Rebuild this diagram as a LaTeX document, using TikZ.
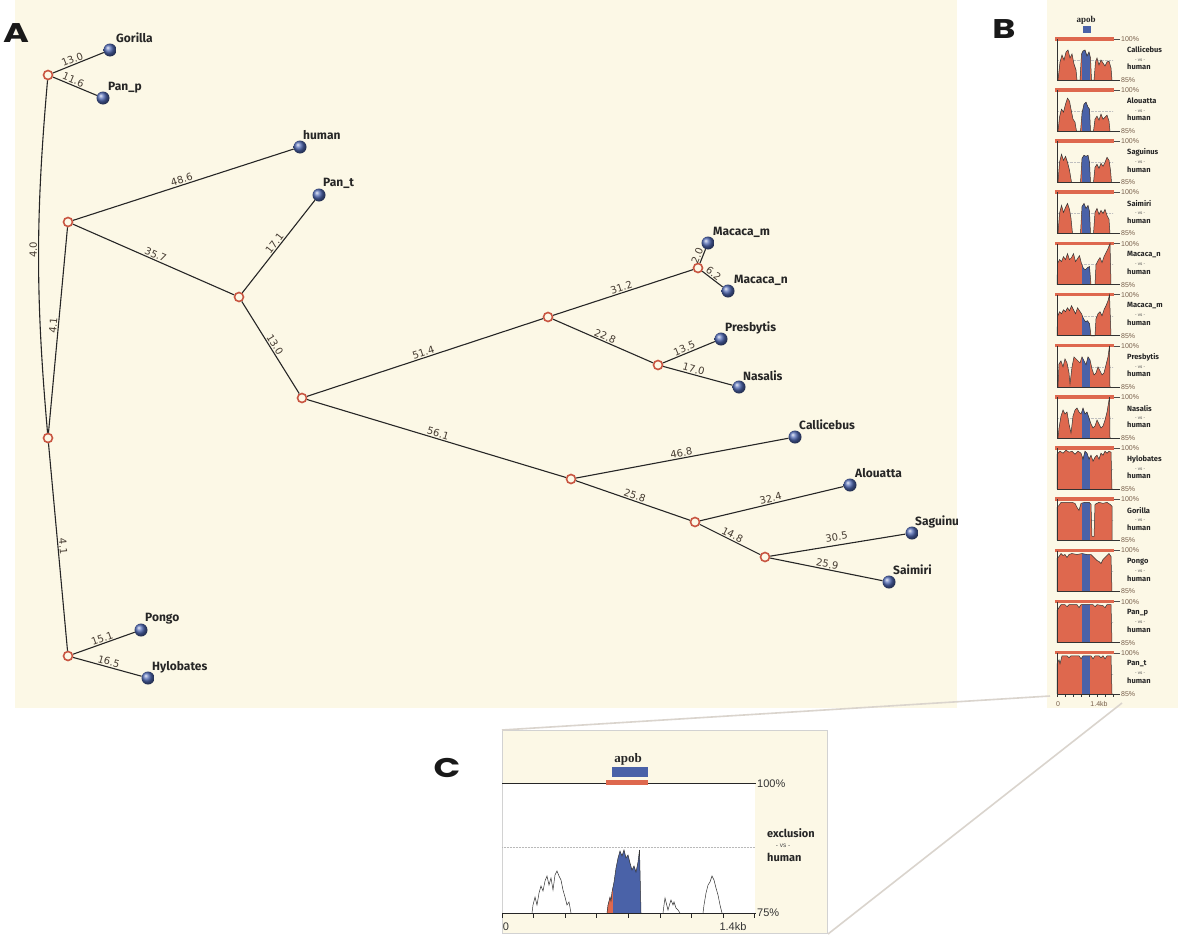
\documentclass[tikz,border=0pt]{standalone}
\usepackage{fontspec}
\setmainfont{Liberation Sans}
\newfontfamily\leaffont{Fira Sans}
\newfontfamily\numfont{DejaVu Sans}
\newfontfamily\panelfont{Poppins}
\newfontfamily\serifb{Liberation Serif}
\definecolor{cream}{RGB}{252,248,230}
\definecolor{ringred}{RGB}{200,85,65}
\definecolor{leafblue}{RGB}{80,105,180}
\definecolor{plotred}{RGB}{222,104,78}
\definecolor{plotblue}{RGB}{74,98,168}
\definecolor{labgray}{RGB}{70,60,50}
\definecolor{pctcol}{RGB}{120,95,75}
\definecolor{connect}{RGB}{218,212,205}
\tikzset{
  inner/.style={circle, draw=ringred, line width=1.6pt, fill=cream, minimum size=9pt, inner sep=0pt},
  leaf/.style={circle, shading=ball, ball color=leafblue, minimum size=13pt, inner sep=0pt},
  leaflab/.style={anchor=west, font=\leaffont\bfseries\fontsize{12}{12}\selectfont, text=black!85, inner sep=0pt},
  edge/.style={line width=1.1pt, black!85},
  elab/.style={sloped, above, font=\numfont\fontsize{10}{10}\selectfont, text=labgray, inner sep=1pt},
  panellab/.style={font=\panelfont\bfseries\fontsize{27}{27}\selectfont, text=black!90, inner sep=0pt},
  pct/.style={anchor=west, font=\fontsize{7}{7}\selectfont, text=pctcol, inner sep=0pt},
  bname/.style={anchor=west, font=\leaffont\bfseries\fontsize{7.5}{7.5}\selectfont, text=black!85, inner sep=0pt},
  bvs/.style={font=\fontsize{4.5}{4.5}\selectfont, text=black!70, inner sep=0pt},
  outl/.style={line width=0.5pt, black!80},
  cpct/.style={anchor=west, font=\fontsize{11}{11}\selectfont, text=black!80, inner sep=0pt},
  cname/.style={anchor=west, font=\leaffont\bfseries\fontsize{11}{11}\selectfont, text=black!85, inner sep=0pt},
}
\newcommand\bptrack[3]{%
\begin{scope}[shift={(1057,{80+51.15*#1})},yscale=-1]
  \fill[plotred] (-2,39.5) rectangle (57,43);
  \draw[line width=0.6pt, black!70] (57,41) -- (63,41);
  \node[pct] at (64,41) {100\%};
  \draw[gray!50, densely dotted, line width=0.4pt] (0,20) -- (56,20);
  \fill[plotred] plot coordinates {#3} -- cycle;
  \begin{scope}
    \clip plot coordinates {#3} -- cycle;
    \fill[plotblue] (25,-1) rectangle (33,45);
  \end{scope}
  \draw[outl] plot coordinates {#3};
  \draw[line width=0.6pt, black!80] (0,0) -- (0,41);
  \draw[line width=0.6pt, black!80] (0,0) -- (63,0);
  \node[pct] at (64,0) {85\%};
  \node[bname] at (70,30) {#2};
  \node[bvs] at (83,20) {- vs -};
  \node[bname] at (70,13) {human};
\end{scope}}
\begin{document}
\begin{tikzpicture}[x=1pt,y=-1pt]
\useasboundingbox (0,0) rectangle (1178,937);
\fill[white] (0,0) rectangle (1178,937);
% panel backgrounds
\fill[cream] (15,0) rectangle (957,708);
\fill[cream] (1047,0) rectangle (1178,708);

% ---------- Panel A: tree ----------
\node[panellab] (labA) at (16,33) {\scalebox{1.3}[1]{A}};
\node[inner] (n1) at (48,75) {};
\node[inner] (n2) at (68,222) {};
\node[inner] (n3) at (239,297) {};
\node[inner] (n4) at (302,398) {};
\node[inner] (n5) at (698,268) {};
\node[inner] (n6) at (548,317) {};
\node[inner] (n7) at (658,365) {};
\node[inner] (n8) at (571,479) {};
\node[inner] (n9) at (695,522) {};
\node[inner] (n10) at (765,557) {};
\node[inner] (root) at (48,438) {};
\node[inner] (n11) at (68,656) {};

\node[leaf] (gor) at (110,50) {};
\node[leaf] (panp) at (103,98) {};
\node[leaf] (hum) at (300,147) {};
\node[leaf] (pant) at (319,195) {};
\node[leaf] (macm) at (708,243) {};
\node[leaf] (macn) at (728,291) {};
\node[leaf] (pres) at (721,339) {};
\node[leaf] (nas) at (739,387) {};
\node[leaf] (call) at (795,437) {};
\node[leaf] (alou) at (850,485) {};
\node[leaf] (sagu) at (912,533) {};
\node[leaf] (saim) at (889,582) {};
\node[leaf] (pong) at (141,630) {};
\node[leaf] (hylo) at (148,678) {};

\node[leaflab] (lgor) at (116,38) {Gorilla};
\node[leaflab] (lpanp) at (108,88) {Pan\_p};
\node[leaflab] (lhum) at (303,135) {human};
\node[leaflab] (lpant) at (323,183) {Pan\_t};
\node[leaflab] (lmacm) at (713,232) {Macaca\_m};
\node[leaflab] (lmacn) at (734,280) {Macaca\_n};
\node[leaflab] (lpres) at (725,328) {Presbytis};
\node[leaflab] (lnas) at (743,376) {Nasalis};
\node[leaflab] (lcall) at (799,425) {Callicebus};
\node[leaflab] (lalou) at (855,473) {Alouatta};
\begin{scope}
  \clip (15,0) rectangle (957,708);
  \node[leaflab] (lsagu) at (915,522) {Saguinus};
\end{scope}
\node[leaflab] (lsaim) at (893,570) {Saimiri};
\node[leaflab] (lpong) at (145,619) {Pongo};
\node[leaflab] (lhylo) at (152,667) {Hylobates};

\draw[edge] (n1) -- node[elab, pos=0.42] {13.0} (gor);
\draw[edge] (n1) -- node[elab, pos=0.42] {11.6} (panp);
\draw[edge] (root) to[bend left=5] node[elab, near end, pos=0.52] {4.0} (n1);
\draw[edge] (root) -- node[elab, pos=0.52] {4.1} (n2);
\draw[edge] (root) -- node[elab] {4.1} (n11);
\draw[edge] (n2) -- node[elab] {48.6} (hum);
\draw[edge] (n2) -- node[elab] {35.7} (n3);
\draw[edge] (n3) -- node[elab] {17.1} (pant);
\draw[edge] (n3) -- node[elab] {13.0} (n4);
\draw[edge] (n4) -- node[elab] {51.4} (n6);
\draw[edge] (n4) -- node[elab] {56.1} (n8);
\draw[edge] (n6) -- node[elab] {31.2} (n5);
\draw[edge] (n5) -- node[elab, pos=0.4] {2.0} (macm);
\draw[edge] (n5) -- node[elab, pos=0.4] {6.2} (macn);
\draw[edge] (n6) -- node[elab] {22.8} (n7);
\draw[edge] (n7) -- node[elab, pos=0.45] {13.5} (pres);
\draw[edge] (n7) -- node[elab, pos=0.42] {17.0} (nas);
\draw[edge] (n8) -- node[elab] {46.8} (call);
\draw[edge] (n8) -- node[elab] {25.8} (n9);
\draw[edge] (n9) -- node[elab] {32.4} (alou);
\draw[edge] (n9) -- node[elab] {14.8} (n10);
\draw[edge] (n10) -- node[elab, yshift=3pt] {30.5} (sagu);
\draw[edge] (n10) -- node[elab] {25.9} (saim);
\draw[edge] (n11) -- node[elab] {15.1} (pong);
\draw[edge] (n11) -- node[elab] {16.5} (hylo);

% ---------- Panel B ----------
\node[panellab] (labB) at (1004,29) {\scalebox{1.3}[1]{B}};
\node[font=\serifb\bfseries\fontsize{9}{9}\selectfont, text=black!85, inner sep=0pt] (bapob) at (1086,20) {apob};
\fill[plotblue] (1082.5,26) rectangle (1090.5,33);

\bptrack{0}{Callicebus}{(1,0)(3,18)(5,25)(7,20)(9,28)(11,30)(13,22)(15,26)(17,16)(19,10)(20,0)(23,0)(24.5,26)(26,29)(28,30)(30,24)(32,28)(33.5,22)(34.5,0)(37,0)(38.5,18)(40,22)(42,15)(44,20)(46,17)(48,14)(50,18)(52,19)(54,12)(55,0)}
\bptrack{1}{Alouatta}{(1,0)(2.5,14)(4.5,22)(6.5,19)(8.5,27)(10.5,33)(12.5,30)(14,22)(16,12)(18,9)(19.5,0)(23.5,0)(25,18)(27,27)(29,29)(31,24)(32.5,22)(33.5,0)(36.5,0)(38,12)(40,15)(42,11)(44,17)(46,12)(48,14)(50,16)(52,10)(53,0)}
\bptrack{2}{Saguinus}{(1,0)(2.5,20)(4.5,28)(6.5,22)(8.5,26)(10.5,20)(12.5,12)(14.5,0)(23.5,0)(25,24)(27,27)(29,26)(31,27)(32.5,20)(33.5,0)(36.5,0)(38,15)(40,18)(42,14)(44,19)(46,16)(48,20)(50,25)(52,22)(53.5,12)(54.5,0)}
\bptrack{3}{Saimiri}{(1,0)(2.5,20)(4.5,28)(6.5,21)(8.5,26)(10.5,30)(12.5,24)(14,15)(15.5,0)(23.5,0)(25,27)(27,30)(29,25)(31,28)(32.5,22)(33.5,0)(36.5,0)(38,21)(40,25)(42,19)(44,23)(46,20)(48,24)(50,18)(52,14)(53,0)}
\bptrack{4}{Macaca\_n}{(0,0)(0.5,21)(2.5,25)(4.5,23)(6.5,28)(8.5,25)(10.5,31)(12.5,25)(14.5,27)(16.5,31)(18.5,23)(20.5,26)(22.5,29)(24.5,21)(26.5,16)(28.5,15)(30.5,17)(32.5,18)(34,0)(38,0)(39,20)(41,24)(43,27)(45,22)(47,28)(49,32)(51,36)(53,41)(54,0)}
\bptrack{5}{Macaca\_m}{(0,0)(0.5,19)(2.5,24)(4.5,22)(6.5,26)(8.5,24)(10.5,28)(12.5,25)(14.5,30)(16.5,26)(18.5,22)(20.5,28)(22.5,25)(24.5,22)(26.5,17)(28.5,14)(30.5,15)(32.5,12)(34,0)(38,0)(39,17)(41,22)(43,24)(45,20)(47,26)(49,30)(51,35)(52.5,41)(54,0)}
\bptrack{6}{Presbytis}{(1,0)(2,23)(4,26)(6,20)(8,28)(10,24)(12,14)(13,3)(15,20)(17,30)(19,28)(21,26)(23,24)(25,30)(27,26)(29,22)(31,30)(33,27)(35,18)(37,12)(39,14)(41,20)(43,16)(45,12)(47,14)(49,22)(51,30)(52.5,41)(53,0)}
\bptrack{7}{Nasalis}{(1,0)(2,10)(4,22)(6,28)(8,24)(10,26)(12,14)(14,5)(16,22)(18,28)(20,30)(22,26)(24,24)(26,30)(28,24)(30,26)(32,20)(34,14)(36,10)(38,12)(40,18)(42,14)(44,10)(46,12)(48,18)(50,26)(52.5,41)(53,0)}
\bptrack{8}{Hylobates}{(0,0)(0,35)(3,38)(6,36)(9,39)(12,37)(15,38)(18,35)(21,38)(24,36)(26,30)(28,38)(30,36)(32,30)(34,34)(36,28)(38,32)(40,34)(42,30)(44,36)(46,34)(48,38)(50,36)(52,38)(54,37)(55,0)}
\bptrack{9}{Gorilla}{(0,0)(0,33)(2,35)(4,38)(10,38)(15,38)(18,37)(20,33)(22,30)(24,37)(28,38)(32,38)(34,36)(35,4)(37,4)(38,36)(42,38)(46,37)(50,38)(53,36)(55,34)(55,0)}
\bptrack{10}{Pongo}{(0,0)(0,33)(2,35)(4,38)(6,36)(8,37)(10,34)(12,37)(15,38)(20,37)(25,38)(30,37)(34,37)(36,35)(38,33)(40,31)(42,30)(44,28)(46,32)(48,34)(50,36)(52,38)(54,35)(55,0)}
\bptrack{11}{Pan\_p}{(0,0)(0,32)(2,35)(4,38)(8,38)(10,36)(12,38)(20,38)(22,35)(24,38)(30,38)(36,38)(38,36)(40,38)(46,37)(48,35)(50,38)(54,38)(55,0)}
\bptrack{12}{Pan\_t}{(0,0)(0,30)(2,34)(3,30)(5,38)(10,38)(12,36)(14,38)(22,38)(24,35)(26,38)(34,38)(36,35)(38,38)(42,38)(44,36)(46,38)(48,35)(50,38)(54,38)(55,0)}
% B axis ticks
\foreach \k in {0,...,7} { \draw[line width=0.5pt, black!80] ({1057+8*\k},693.8) -- ({1057+8*\k},697); }
\node[pct, anchor=center] (b0) at (1058,704) {0};
\node[pct, anchor=center] (bkb) at (1099,704) {1.4kb};

% ---------- connectors ----------
\coordinate (bbl) at (1050,696);
\coordinate (bbr) at (1122,703);
\node[draw=gray!35, line width=1pt, fill=cream, minimum width=325pt, minimum height=203pt, anchor=north west, inner sep=0pt] (cbox) at (502,730) {};
\draw[connect, line width=1.6pt] (bbl) -- (cbox.north west);
\draw[connect, line width=1.6pt] (bbr) -- (cbox.south east);

% ---------- Panel C ----------
\node[panellab] (labC) at (447,768) {\scalebox{1.3}[1]{C}};
\fill[white] (503,784) rectangle (755,913);
\node[font=\serifb\bfseries\fontsize{13}{13}\selectfont, text=black!85, inner sep=0pt] (capob) at (628,759) {apob};
\fill[plotblue] (612,767) rectangle (648,777);
\fill[plotred] (606,780) rectangle (648,785);
\draw[line width=0.7pt, black!85] (502,783) -- (606,783);
\draw[line width=0.7pt, black!85] (648,783) -- (756,783);
\node[cpct] (c100) at (757,784) {100\%};
\draw[gray!55, densely dotted, line width=0.5pt] (502,847) -- (755,847);
\node[cname] (cexcl) at (767,833) {exclusion};
\node[bvs, font=\fontsize{6.5}{6.5}\selectfont] (cvs) at (783,846) {- vs -};
\node[cname] (chum) at (767,857) {human};
% peaks
\draw[outl, fill=white] plot coordinates {(532,913)(533,905)(535,897)(537,905)(539,893)(541,886)(543,891)(545,881)(547,876)(549,885)(551,878)(553,890)(555,875)(557,871)(559,876)(561,880)(563,890)(565,897)(567,905)(569,902)(571,913)};
\begin{scope}
  \clip plot coordinates {(607,913)(608,905)(610,897)(611,901)(612,892)(614,882)(616,868)(618,858)(620,851)(622,856)(624,850)(626,858)(628,855)(630,863)(632,870)(634,866)(636,872)(638,862)(639.5,850)(641,913)} -- cycle;
  \fill[plotblue] (600,840) rectangle (645,915);
  \fill[plotred] (600,840) rectangle (613,915);
\end{scope}
\draw[outl] plot coordinates {(607,913)(608,905)(610,897)(611,901)(612,892)(614,882)(616,868)(618,858)(620,851)(622,856)(624,850)(626,858)(628,855)(630,863)(632,870)(634,866)(636,872)(638,862)(639.5,850)(641,913)};
\draw[outl] plot coordinates {(663,913)(664,905)(665,898)(667,906)(668,910)(670,903)(671,900)(673,905)(674,902)(676,908)(678,910)(680,913)};
\draw[outl, fill=white] plot coordinates {(703,913)(704,905)(706,893)(708,885)(710,882)(712,876)(714,880)(716,888)(718,895)(720,905)(722,913)};
\draw[line width=0.8pt, black!85] (502,913) -- (756,913);
\foreach \k in {0,...,8} { \draw[line width=0.7pt, black!85] ({502+31.6*\k},913) -- ({502+31.6*\k},918); }
\node[cpct] (c75) at (757,913) {75\%};
\node[cpct, anchor=center] (c0) at (506,927) {0};
\node[cpct, anchor=center] (ckb) at (733,927) {1.4kb};
\end{tikzpicture}
\end{document}
